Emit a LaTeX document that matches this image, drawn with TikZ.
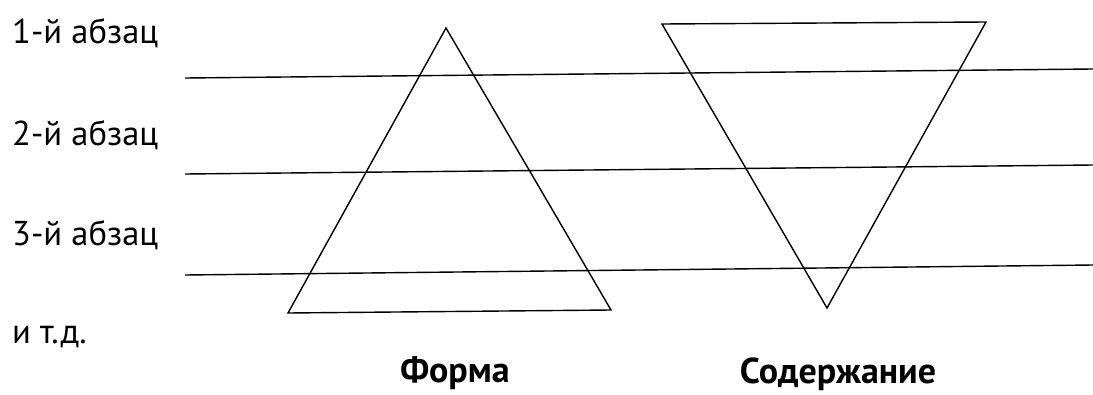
\documentclass[tikz,border=0pt]{standalone}
\usepackage{fontspec}
\setmainfont{PT Sans}
\begin{document}
\begin{tikzpicture}[x=1pt,y=-1pt,
  lbl/.style={anchor=base west,inner sep=0pt,font=\fontsize{34.5}{40}\selectfont},
  captxt/.style={anchor=base,inner sep=0pt,font=\fontsize{36}{42}\selectfont\bfseries},
  ln/.style={line width=1.4pt,line join=miter}]
\useasboundingbox (0,0) rectangle (1093,394);
\fill[white] (0,0) rectangle (1093,394);
% labels
\node[lbl] (p1) at (12,43) {1-й абзац};
\node[lbl] (p2) at (12,145) {2-й абзац};
\node[lbl] (p3) at (12,245) {3-й абзац};
\node[lbl] (etc) at (12,343) {и т.д.};
\node[captxt] (forma) at (455,382) {Форма};
\node[captxt] (content) at (838,383) {Содержание};
% horizontal lines
\coordinate (l1a) at (185,78); \coordinate (l1b) at (1093,69);
\coordinate (l2a) at (185,174); \coordinate (l2b) at (1093,165);
\coordinate (l3a) at (185,275); \coordinate (l3b) at (1093,265);
\draw[ln] (l1a) -- (l1b);
\draw[ln] (l2a) -- (l2b);
\draw[ln] (l3a) -- (l3b);
% triangles
\coordinate (fA) at (446,28); \coordinate (fB) at (288,313); \coordinate (fC) at (611,310);
\draw[ln] (fA) -- (fB) -- (fC) -- cycle;
\coordinate (cA) at (662,24); \coordinate (cB) at (986,22); \coordinate (cC) at (827,308);
\draw[ln] (cA) -- (cB) -- (cC) -- cycle;
\end{tikzpicture}
\end{document}
